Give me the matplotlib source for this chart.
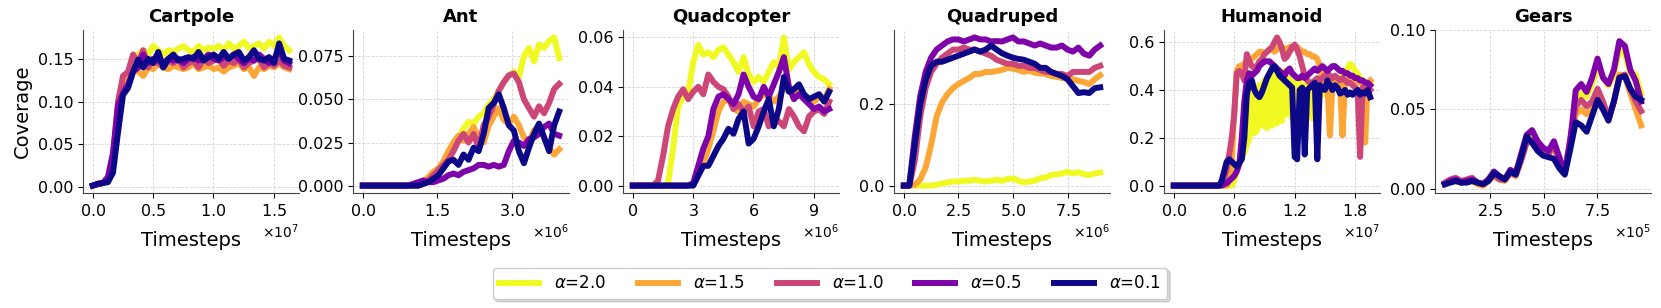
import numpy as np
import matplotlib
matplotlib.use("Agg")
import matplotlib.pyplot as plt

# alpha values (legend order) and plasma colours
alphas = [2.0, 1.5, 1.0, 0.5, 0.1]
colors = ["#f0f921", "#fca636", "#cc4778", "#7e03a8", "#0d0887"]

envs = ["Cartpole", "Ant", "Quadcopter", "Quadruped", "Humanoid", "Gears"]

# ---------------- Cartpole ----------------
cart_x = np.linspace(0, 1.63e7, 40)
cart_20 = [0.002, 0.004, 0.005, 0.008, 0.03, 0.09, 0.12, 0.13, 0.15, 0.155, 0.16, 0.155, 0.165, 0.16, 0.155, 0.16,
           0.158, 0.162, 0.165, 0.16, 0.158, 0.165, 0.16, 0.163, 0.162, 0.165, 0.16, 0.168, 0.162, 0.165, 0.17, 0.162,
           0.165, 0.168, 0.162, 0.17, 0.165, 0.175, 0.165, 0.16]
cart_15 = [0.002, 0.004, 0.005, 0.008, 0.03, 0.085, 0.12, 0.125, 0.14, 0.135, 0.13, 0.14, 0.138, 0.145, 0.14, 0.138,
           0.142, 0.14, 0.138, 0.14, 0.145, 0.138, 0.14, 0.142, 0.138, 0.14, 0.135, 0.14, 0.142, 0.145, 0.138, 0.14,
           0.13, 0.14, 0.138, 0.142, 0.14, 0.145, 0.14, 0.138]
cart_10 = [0.002, 0.004, 0.005, 0.01, 0.035, 0.1, 0.13, 0.135, 0.155, 0.145, 0.16, 0.14, 0.15, 0.145, 0.14, 0.148,
           0.145, 0.15, 0.14, 0.145, 0.148, 0.14, 0.15, 0.145, 0.148, 0.15, 0.142, 0.148, 0.145, 0.15, 0.14, 0.145,
           0.148, 0.15, 0.14, 0.145, 0.142, 0.148, 0.142, 0.14]
cart_05 = [0.002, 0.004, 0.005, 0.012, 0.04, 0.095, 0.11, 0.12, 0.135, 0.14, 0.155, 0.145, 0.15, 0.148, 0.145, 0.15,
           0.148, 0.15, 0.145, 0.15, 0.152, 0.148, 0.15, 0.155, 0.15, 0.148, 0.152, 0.15, 0.155, 0.15, 0.145, 0.15,
           0.148, 0.155, 0.15, 0.145, 0.15, 0.16, 0.148, 0.145]
cart_01 = [0.002, 0.004, 0.005, 0.006, 0.017, 0.064, 0.108, 0.116, 0.135, 0.149, 0.14, 0.15, 0.145, 0.158, 0.14, 0.15,
           0.155, 0.148, 0.15, 0.152, 0.15, 0.158, 0.148, 0.152, 0.155, 0.15, 0.158, 0.15, 0.155, 0.158, 0.148, 0.152,
           0.16, 0.15, 0.148, 0.152, 0.145, 0.168, 0.15, 0.148]

# ---------------- Ant ----------------
ant_x = np.linspace(0, 3.95e6, 40)
ant_20 = [0, 0, 0, 0, 0, 0, 0, 0, 0, 0, 0, 0, 0.001, 0.003, 0.006, 0.01, 0.013, 0.018, 0.022, 0.028,
          0.033, 0.037, 0.036, 0.04, 0.042, 0.047, 0.05, 0.055, 0.06, 0.064, 0.066, 0.063, 0.075, 0.08, 0.072, 0.082,
          0.08, 0.084, 0.086, 0.074]
ant_15 = [0, 0, 0, 0, 0, 0, 0, 0, 0, 0, 0, 0, 0.002, 0.005, 0.008, 0.01, 0.014, 0.02, 0.025, 0.029,
          0.026, 0.03, 0.034, 0.028, 0.025, 0.035, 0.04, 0.045, 0.038, 0.036, 0.04, 0.035, 0.028, 0.025, 0.032, 0.035,
          0.028, 0.022, 0.018, 0.021]
ant_10 = [0, 0, 0, 0, 0, 0, 0, 0, 0, 0, 0, 0, 0.001, 0.003, 0.006, 0.009, 0.012, 0.015, 0.02, 0.026,
          0.03, 0.025, 0.03, 0.022, 0.035, 0.04, 0.047, 0.055, 0.06, 0.064, 0.065, 0.06, 0.05, 0.045, 0.04, 0.046,
          0.042, 0.048, 0.056, 0.059]
ant_05 = [0, 0, 0, 0, 0, 0, 0, 0, 0, 0, 0.001, 0.002, 0.003, 0.002, 0.002, 0.003, 0.004, 0.006, 0.007, 0.006,
          0.008, 0.009, 0.01, 0.012, 0.012, 0.011, 0.012, 0.011, 0.012, 0.02, 0.026, 0.025, 0.023, 0.027, 0.028, 0.03,
          0.034, 0.036, 0.03, 0.029]
ant_01 = [0, 0, 0, 0, 0, 0, 0, 0, 0, 0, 0, 0, 0.001, 0.002, 0.004, 0.006, 0.01, 0.014, 0.015, 0.012,
          0.018, 0.015, 0.022, 0.02, 0.03, 0.045, 0.048, 0.053, 0.045, 0.035, 0.032, 0.02, 0.013, 0.022, 0.03, 0.036,
          0.028, 0.02, 0.035, 0.043]

# ---------------- Quadcopter ----------------
qc_x = np.linspace(0, 9.78e6, 40)
qc_20 = [0, 0, 0, 0, 0, 0, 0, 0.001, 0.015, 0.032, 0.036, 0.038, 0.05, 0.057, 0.053, 0.054, 0.052, 0.055, 0.056,
         0.053, 0.05, 0.046, 0.052, 0.045, 0.042, 0.044, 0.042, 0.046, 0.05, 0.048, 0.06, 0.047, 0.05, 0.052, 0.054,
         0.049, 0.046, 0.044, 0.043, 0.041]
qc_15 = [0, 0, 0, 0, 0, 0, 0, 0, 0, 0, 0, 0, 0.001, 0.005, 0.009, 0.015, 0.022, 0.03, 0.034, 0.035, 0.031, 0.03,
         0.034, 0.033, 0.032, 0.035, 0.037, 0.036, 0.034, 0.036, 0.039, 0.04, 0.038, 0.039, 0.036, 0.035, 0.034,
         0.036, 0.035, 0.039]
qc_10 = [0, 0, 0, 0, 0, 0.002, 0.012, 0.024, 0.031, 0.036, 0.039, 0.035, 0.038, 0.04, 0.037, 0.045, 0.042, 0.04,
         0.039, 0.036, 0.031, 0.033, 0.03, 0.032, 0.024, 0.03, 0.031, 0.024, 0.028, 0.026, 0.024, 0.031, 0.028,
         0.024, 0.022, 0.028, 0.03, 0.031, 0.029, 0.034]
qc_05 = [0, 0, 0, 0, 0, 0, 0, 0, 0, 0, 0, 0, 0.001, 0.008, 0.015, 0.02, 0.031, 0.036, 0.037, 0.035, 0.033, 0.037,
         0.045, 0.04, 0.036, 0.035, 0.04, 0.036, 0.041, 0.046, 0.052, 0.04, 0.035, 0.037, 0.035, 0.033, 0.031,
         0.032, 0.03, 0.031]
qc_01 = [0, 0, 0, 0, 0, 0, 0, 0, 0, 0, 0, 0, 0, 0.004, 0.008, 0.008, 0.012, 0.016, 0.019, 0.023, 0.021, 0.027,
         0.03, 0.017, 0.019, 0.024, 0.03, 0.035, 0.024, 0.031, 0.044, 0.038, 0.039, 0.041, 0.037, 0.035, 0.036,
         0.037, 0.034, 0.038]

# ---------------- Quadruped ----------------
qp_x = np.linspace(0, 8.98e6, 37)
qp_20 = [0, 0, 0, 0, 0, 0, 0.002, 0.005, 0.008, 0.01, 0.01, 0.012, 0.012, 0.014, 0.012, 0.01, 0.012, 0.014, 0.012,
         0.016, 0.018, 0.012, 0.008, 0.01, 0.012, 0.018, 0.02, 0.026, 0.028, 0.03, 0.034, 0.03, 0.033, 0.028, 0.026,
         0.03, 0.032]
qp_15 = [0, 0, 0.002, 0.015, 0.045, 0.1, 0.17, 0.205, 0.225, 0.24, 0.25, 0.258, 0.265, 0.275, 0.275, 0.28, 0.28,
         0.282, 0.285, 0.29, 0.288, 0.285, 0.28, 0.283, 0.278, 0.276, 0.275, 0.27, 0.268, 0.265, 0.265, 0.262, 0.258,
         0.255, 0.25, 0.262, 0.272]
qp_10 = [0, 0, 0.06, 0.17, 0.24, 0.28, 0.3, 0.315, 0.325, 0.335, 0.335, 0.34, 0.335, 0.335, 0.33, 0.325, 0.32,
         0.31, 0.305, 0.3, 0.3, 0.295, 0.295, 0.29, 0.29, 0.285, 0.28, 0.28, 0.275, 0.275, 0.27, 0.28, 0.28, 0.28,
         0.28, 0.29, 0.295]
qp_05 = [0, 0, 0.12, 0.22, 0.28, 0.315, 0.335, 0.345, 0.355, 0.36, 0.36, 0.355, 0.36, 0.365, 0.36, 0.36, 0.355,
         0.356, 0.355, 0.36, 0.365, 0.355, 0.355, 0.35, 0.345, 0.35, 0.345, 0.34, 0.34, 0.345, 0.335, 0.33, 0.34,
         0.325, 0.32, 0.335, 0.345]
qp_01 = [0, 0, 0.1, 0.2, 0.26, 0.295, 0.305, 0.305, 0.31, 0.315, 0.32, 0.325, 0.33, 0.335, 0.33, 0.335, 0.345,
         0.335, 0.326, 0.32, 0.315, 0.312, 0.31, 0.305, 0.3, 0.29, 0.29, 0.28, 0.275, 0.27, 0.262, 0.245, 0.228,
         0.23, 0.228, 0.24, 0.242]

# ---------------- Humanoid ----------------
hu_x = np.linspace(0, 1.95e7, 79)
hu_20 = [0, 0, 0, 0, 0, 0, 0, 0, 0, 0, 0, 0, 0, 0, 0, 0, 0, 0, 0, 0, 0, 0, 0, 0, 0.02, 0.06, 0.09, 0.11, 0.14, 0.17,
         0.2, 0.4, 0.22, 0.23, 0.42, 0.25, 0.44, 0.24, 0.45, 0.25, 0.47, 0.26, 0.46, 0.27, 0.48, 0.3, 0.45, 0.28, 0.43,
         0.3, 0.44, 0.28, 0.42, 0.3, 0.41, 0.28, 0.4, 0.25, 0.38, 0.42, 0.38, 0.4, 0.43, 0.42, 0.44, 0.45, 0.44, 0.46,
         0.47, 0.49, 0.51, 0.5, 0.48, 0.47, 0.45, 0.44, 0.43, 0.42, 0.43]
hu_15 = [0, 0, 0, 0, 0, 0, 0, 0, 0, 0, 0, 0, 0, 0, 0, 0, 0, 0, 0, 0, 0, 0, 0.02, 0.1, 0.3, 0.48, 0.5, 0.5, 0.51,
         0.52, 0.53, 0.53, 0.54, 0.55, 0.56, 0.56, 0.55, 0.56, 0.57, 0.57, 0.56, 0.57, 0.58, 0.58, 0.57, 0.57, 0.58,
         0.57, 0.58, 0.58, 0.57, 0.56, 0.56, 0.55, 0.55, 0.54, 0.54, 0.53, 0.5, 0.45, 0.42, 0.43, 0.21, 0.42, 0.44,
         0.43, 0.42, 0.21, 0.43, 0.44, 0.45, 0.44, 0.44, 0.43, 0.44, 0.43, 0.18, 0.43, 0.44]
hu_10 = [0, 0, 0, 0, 0, 0, 0, 0, 0, 0, 0, 0, 0, 0, 0, 0, 0, 0, 0, 0.01, 0.03, 0.07, 0.13, 0.2, 0.3, 0.47, 0.48,
         0.47, 0.44, 0.55, 0.52, 0.5, 0.49, 0.5, 0.52, 0.53, 0.55, 0.56, 0.57, 0.58, 0.6, 0.62, 0.6, 0.57, 0.53, 0.54,
         0.56, 0.58, 0.59, 0.57, 0.54, 0.5, 0.46, 0.44, 0.43, 0.43, 0.44, 0.45, 0.44, 0.45, 0.46, 0.47, 0.46, 0.45,
         0.46, 0.45, 0.44, 0.45, 0.44, 0.43, 0.43, 0.42, 0.41, 0.4, 0.12, 0.41, 0.4, 0.41, 0.4]
hu_05 = [0, 0, 0, 0, 0, 0, 0, 0, 0, 0, 0, 0, 0, 0, 0, 0, 0, 0, 0, 0, 0.005, 0.01, 0.02, 0.03, 0.04, 0.06, 0.09,
         0.2, 0.35, 0.44, 0.47, 0.46, 0.47, 0.48, 0.5, 0.51, 0.52, 0.52, 0.52, 0.51, 0.5, 0.49, 0.48, 0.47, 0.46, 0.48,
         0.49, 0.47, 0.46, 0.45, 0.45, 0.46, 0.45, 0.46, 0.47, 0.48, 0.49, 0.48, 0.49, 0.5, 0.49, 0.48, 0.49, 0.5, 0.5,
         0.49, 0.48, 0.48, 0.47, 0.47, 0.46, 0.46, 0.45, 0.45, 0.44, 0.44, 0.43, 0.43, 0.42]
hu_01 = [0, 0, 0, 0, 0, 0, 0, 0, 0, 0, 0, 0, 0, 0, 0, 0, 0, 0, 0, 0.02, 0.06, 0.1, 0.11, 0.1, 0.09, 0.08, 0.095,
         0.11, 0.2, 0.38, 0.43, 0.44, 0.4, 0.38, 0.37, 0.39, 0.42, 0.45, 0.47, 0.49, 0.5, 0.48, 0.46, 0.45, 0.44, 0.43,
         0.42, 0.41, 0.12, 0.11, 0.4, 0.41, 0.13, 0.4, 0.41, 0.42, 0.43, 0.11, 0.42, 0.41, 0.4, 0.44, 0.42, 0.4, 0.42,
         0.41, 0.385, 0.39, 0.4, 0.38, 0.39, 0.38, 0.39, 0.4, 0.38, 0.39, 0.385, 0.4, 0.37]

# ---------------- Gears ----------------
ge_x = np.linspace(0.4e5, 9.55e5, 37)
ge_20 = [0.003, 0.004, 0.005, 0.004, 0.005, 0.005, 0.003, 0.003, 0.005, 0.009, 0.007, 0.006, 0.011, 0.009, 0.02,
         0.031, 0.033, 0.028, 0.025, 0.024, 0.028, 0.019, 0.01, 0.028, 0.057, 0.06, 0.058, 0.066, 0.077, 0.07, 0.065,
         0.072, 0.088, 0.085, 0.073, 0.072, 0.06]
ge_15 = [0.003, 0.005, 0.005, 0.004, 0.005, 0.005, 0.003, 0.002, 0.005, 0.008, 0.006, 0.005, 0.01, 0.008, 0.018,
         0.03, 0.031, 0.026, 0.024, 0.022, 0.026, 0.017, 0.01, 0.028, 0.047, 0.05, 0.047, 0.05, 0.06, 0.052, 0.043,
         0.055, 0.072, 0.071, 0.06, 0.05, 0.04]
ge_10 = [0.004, 0.006, 0.007, 0.005, 0.006, 0.007, 0.004, 0.003, 0.006, 0.009, 0.006, 0.006, 0.01, 0.009, 0.018,
         0.029, 0.03, 0.027, 0.025, 0.022, 0.028, 0.018, 0.011, 0.032, 0.052, 0.056, 0.052, 0.055, 0.063, 0.055, 0.045,
         0.055, 0.07, 0.072, 0.063, 0.055, 0.049]
ge_05 = [0.003, 0.005, 0.006, 0.004, 0.005, 0.006, 0.004, 0.003, 0.006, 0.011, 0.008, 0.006, 0.012, 0.01, 0.022,
         0.034, 0.037, 0.03, 0.026, 0.024, 0.03, 0.02, 0.01, 0.03, 0.062, 0.066, 0.061, 0.07, 0.082, 0.07, 0.066,
         0.075, 0.093, 0.09, 0.075, 0.068, 0.055]
ge_01 = [0.003, 0.004, 0.005, 0.004, 0.004, 0.005, 0.004, 0.003, 0.005, 0.01, 0.008, 0.006, 0.011, 0.009, 0.02,
         0.033, 0.029, 0.024, 0.021, 0.02, 0.019, 0.013, 0.009, 0.025, 0.042, 0.04, 0.036, 0.046, 0.056, 0.05, 0.043,
         0.055, 0.07, 0.071, 0.063, 0.058, 0.056]

xs = [cart_x, ant_x, qc_x, qp_x, hu_x, ge_x]
ys = [
    [cart_20, cart_15, cart_10, cart_05, cart_01],
    [ant_20, ant_15, ant_10, ant_05, ant_01],
    [qc_20, qc_15, qc_10, qc_05, qc_01],
    [qp_20, qp_15, qp_10, qp_05, qp_01],
    [hu_20, hu_15, hu_10, hu_05, hu_01],
    [ge_20, ge_15, ge_10, ge_05, ge_01],
]

# tick positions
xticks = [[0, 0.5e7, 1.0e7, 1.5e7], [0, 1.5e6, 3.0e6], [0, 3e6, 6e6, 9e6],
          [0, 2.5e6, 5.0e6, 7.5e6], [0, 0.6e7, 1.2e7, 1.8e7], [2.5e5, 5.0e5, 7.5e5]]
yticks = [[0, 0.05, 0.10, 0.15], [0, 0.025, 0.05, 0.075], [0, 0.02, 0.04, 0.06],
          [0, 0.2], [0, 0.2, 0.4, 0.6], [0, 0.05, 0.10]]

W, H = 1661, 308
fig = plt.figure(figsize=(W / 100, H / 100), dpi=100)
lefts = [83, 353, 623, 894, 1164, 1435]
ax_w, ax_b, ax_h = 216, 115, 163

handles = []
for i, name in enumerate(envs):
    ax = fig.add_axes([lefts[i] / W, ax_b / H, ax_w / W, ax_h / H])
    for j, a in enumerate(alphas):
        ln, = ax.plot(xs[i], ys[i][j], color=colors[j], lw=4.3, label=r"$\alpha$=%.1f" % a)
        if i == 0:
            handles.append(ln)
    ax.set_title(name, fontsize=13, fontweight="bold")
    ax.set_xticks(xticks[i])
    ax.set_yticks(yticks[i])
    ax.ticklabel_format(axis="x", style="sci", scilimits=(0, 0), useMathText=True)
    ax.xaxis.get_offset_text().set_fontsize(10)
    ax.tick_params(labelsize=11.5)
    ax.grid(True, linestyle="--", linewidth=0.6, color="#d5d5d5")
    ax.set_axisbelow(True)
    ax.spines["top"].set_visible(False)
    ax.spines["right"].set_visible(False)
    for s in ["left", "bottom"]:
        ax.spines[s].set_color("#444444")
    ax.set_xlabel("Timesteps", fontsize=14, labelpad=9)
    if i == 0:
        ax.set_ylabel("Coverage", fontsize=14)

fig.legend(handles=handles, loc="center", bbox_to_anchor=(0.4997, 0.08), ncol=5, fontsize=12,
           shadow={"alpha": 0.2}, fancybox=True, handlelength=2.4, columnspacing=1.9, handletextpad=0.9)

fig.savefig("out.png", dpi=100)
